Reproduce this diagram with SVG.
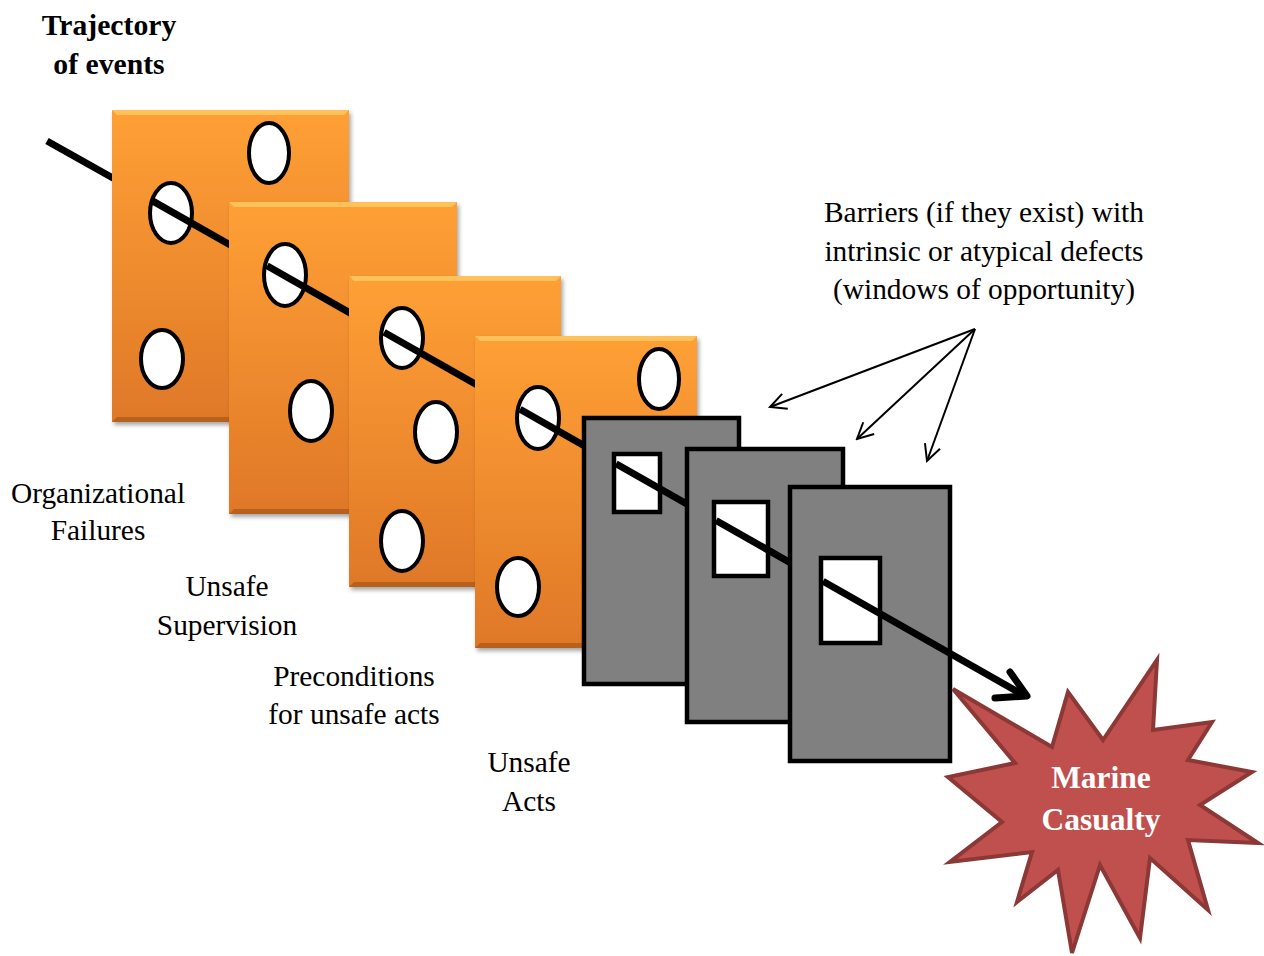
<svg xmlns="http://www.w3.org/2000/svg" width="1264" height="956" viewBox="0 0 1264 956">
  <style>
    .lbl { font-family: "Liberation Serif", "Times New Roman", serif; font-size: 29.4px; fill: #000; text-anchor: middle; }
    .bold { font-weight: bold; font-size: 29.7px; }
    .burst-text { font-family: "Liberation Serif", "Times New Roman", serif; font-size: 31.5px; font-weight: bold; fill: #fff; text-anchor: middle; }
    .face { fill: url(#slabFace); filter: url(#shadow); }
    .bev-top { fill: #ffc15a; }
    .bev-bot { fill: #b8611f; }
    .hole { fill: #fff; stroke: #000; stroke-width: 4; }
    .traj { stroke: #000; stroke-width: 7; fill: none; }
    .panel { fill: #808080; stroke: #000; stroke-width: 4.5; }
    .window { fill: #fff; stroke: #000; stroke-width: 4.5; }
    .pointer { stroke: #000; stroke-width: 2; fill: none; marker-end: url(#openHead); }
  </style>
  <defs>
    <linearGradient id="slabFace" x1="0" y1="0" x2="0" y2="1">
      <stop offset="0" stop-color="#ffa035"/>
      <stop offset="1" stop-color="#df7828"/>
    </linearGradient>
    <filter id="shadow" x="-10%" y="-10%" width="130%" height="130%">
      <feDropShadow dx="2" dy="3" stdDeviation="2" flood-color="#000" flood-opacity="0.35"/>
    </filter>
    <marker id="openHead" viewBox="0 0 20 20" refX="18" refY="10" markerWidth="20" markerHeight="20" markerUnits="userSpaceOnUse" orient="auto">
      <path d="M2,2 L18,10 L2,18" fill="none" stroke="#000" stroke-width="2"/>
    </marker>
  </defs>

  <!-- title -->
  <g id="title">
    <text class="lbl bold" x="109" y="35">Trajectory</text>
    <text class="lbl bold" x="109" y="74">of events</text>
  </g>

  <!-- trajectory lead-in, hidden behind the first slab -->
  <g id="connectors-lead">
    <line class="traj" x1="47" y1="141" x2="120" y2="182"/>
  </g>

  <!-- slab 1: organizational failures -->
  <g id="slab-organizational">
    <rect class="face" x="112" y="110" width="237" height="312"/>
    <polygon class="bev-top" points="112,110 349,110 344,115 117,115"/>
    <polygon class="bev-bot" points="112,422 349,422 344,417 117,417"/>
    <ellipse class="hole" cx="269" cy="153" rx="20" ry="30"/>
    <ellipse class="hole" cx="171" cy="213" rx="21" ry="30"/>
    <ellipse class="hole" cx="162" cy="359" rx="21" ry="29"/>
  </g>
  <line class="traj" x1="152" y1="200.6" x2="240" y2="250.5"/>

  <!-- slab 2: unsafe supervision -->
  <g id="slab-supervision">
    <rect class="face" x="229" y="202" width="228" height="312"/>
    <polygon class="bev-top" points="229,202 457,202 452,207 234,207"/>
    <polygon class="bev-bot" points="229,514 457,514 452,509 234,509"/>
    <ellipse class="hole" cx="285" cy="275" rx="21" ry="31"/>
    <ellipse class="hole" cx="311" cy="411" rx="21" ry="30"/>
  </g>
  <line class="traj" x1="267" y1="265.8" x2="360" y2="318.6"/>

  <!-- slab 3: preconditions -->
  <g id="slab-preconditions">
    <rect class="face" x="349" y="276" width="212" height="311"/>
    <polygon class="bev-top" points="349,276 561,276 556,281 354,281"/>
    <polygon class="bev-bot" points="349,587 561,587 556,582 354,582"/>
    <ellipse class="hole" cx="402" cy="338" rx="21" ry="30"/>
    <ellipse class="hole" cx="436" cy="432" rx="21" ry="30"/>
    <ellipse class="hole" cx="402" cy="541" rx="21" ry="30"/>
  </g>
  <line class="traj" x1="384" y1="332.2" x2="485" y2="389.5"/>

  <!-- slab 4: unsafe acts -->
  <g id="slab-acts">
    <rect class="face" x="475" y="336" width="222" height="312"/>
    <polygon class="bev-top" points="475,336 697,336 692,341 480,341"/>
    <polygon class="bev-bot" points="475,648 697,648 692,643 480,643"/>
    <ellipse class="hole" cx="659" cy="379" rx="20" ry="30"/>
    <ellipse class="hole" cx="538" cy="418" rx="21" ry="31"/>
    <ellipse class="hole" cx="518" cy="587" rx="21" ry="29"/>
  </g>
  <line class="traj" x1="520" y1="409.3" x2="595" y2="451.9"/>

  <!-- barrier 1 -->
  <g id="barrier-1">
    <rect class="panel" x="584" y="418" width="155" height="266"/>
    <rect class="window" x="614" y="454" width="46" height="58"/>
  </g>
  <line class="traj" x1="616" y1="463.8" x2="698" y2="510.3"/>

  <!-- barrier 2 -->
  <g id="barrier-2">
    <rect class="panel" x="687" y="449" width="156" height="273"/>
    <rect class="window" x="714" y="502" width="54" height="74"/>
  </g>
  <line class="traj" x1="716" y1="520.5" x2="800" y2="568.2"/>

  <!-- barrier 3 -->
  <g id="barrier-3">
    <rect class="panel" x="790" y="487" width="160" height="274"/>
    <rect class="window" x="821" y="558" width="59" height="85"/>
  </g>

  <!-- outcome -->
  <g id="marine-casualty">
    <polygon points="953,689 1052,747 1068,692 1103,740 1157,660 1153,730 1212,722 1188,760 1252,772 1200,805 1258,843 1188,840 1208,910 1150,858 1140,938 1100,865 1072,953 1058,870 1017,902 1032,852 950,862 1002,822 948,777 1015,763" fill="#c0504d" stroke="#8c3836" stroke-width="4" stroke-linejoin="miter"/>
    <text class="burst-text" x="1101" y="788">Marine</text>
    <text class="burst-text" x="1101" y="830">Casualty</text>
  </g>

  <!-- trajectory through the barriers and arrowhead -->
  <g id="connectors">
    <line class="traj" x1="823" y1="581.2" x2="1025" y2="696"/>
    <polyline points="1010,672 1027,696 995,698" fill="none" stroke="#000" stroke-width="7" stroke-linecap="round" stroke-linejoin="round"/>
    <line class="pointer" x1="975" y1="329" x2="770" y2="407"/>
    <line class="pointer" x1="975" y1="329" x2="857" y2="439"/>
    <line class="pointer" x1="975" y1="329" x2="927" y2="461"/>
  </g>

  <!-- layer labels -->
  <g id="labels">
    <text class="lbl" x="98" y="503">Organizational</text>
    <text class="lbl" x="98" y="540">Failures</text>
    <text class="lbl" x="227" y="596">Unsafe</text>
    <text class="lbl" x="227" y="635">Supervision</text>
    <text class="lbl" x="354" y="686">Preconditions</text>
    <text class="lbl" x="354" y="724">for unsafe acts</text>
    <text class="lbl" x="529" y="772">Unsafe</text>
    <text class="lbl" x="529" y="811">Acts</text>
    <text class="lbl" x="984" y="222">Barriers (if they exist) with</text>
    <text class="lbl" x="984" y="261">intrinsic or atypical defects</text>
    <text class="lbl" x="984" y="299">(windows of opportunity)</text>
  </g>
</svg>
